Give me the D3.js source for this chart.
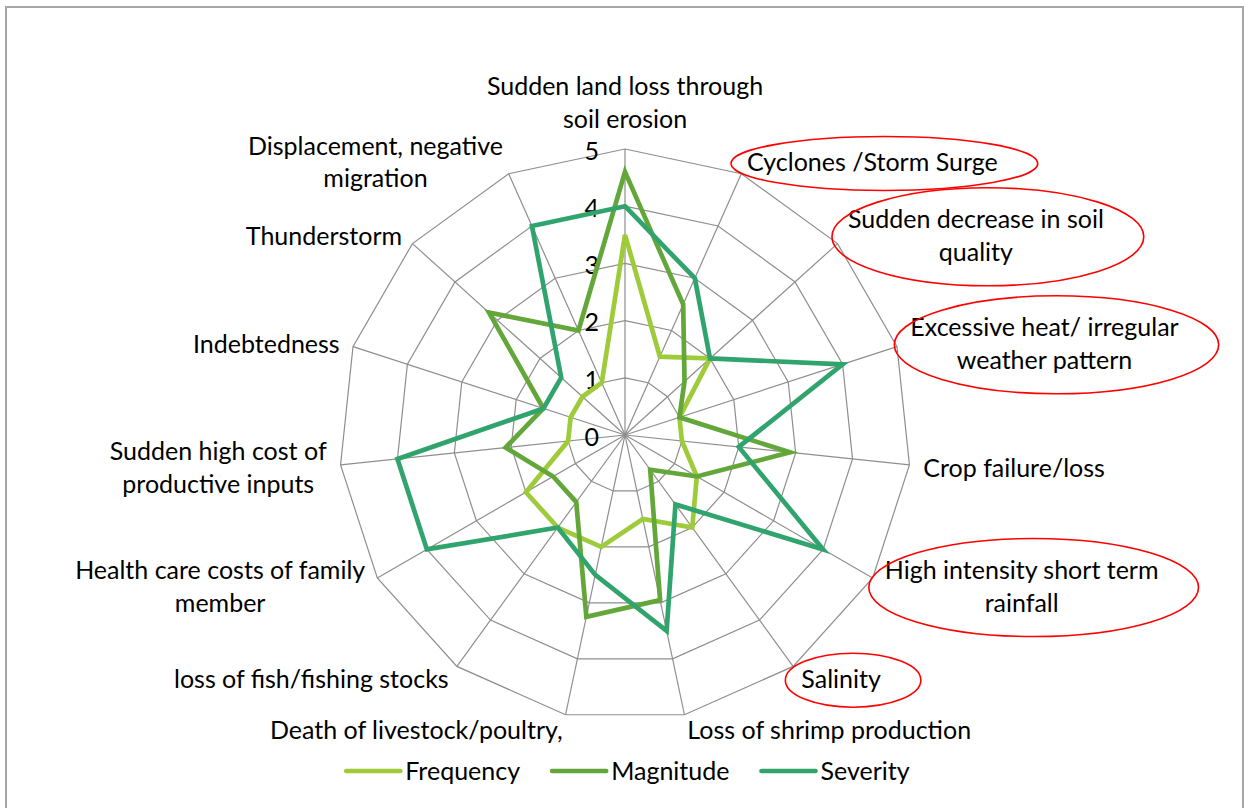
<!DOCTYPE html>
<html>
<head>
<meta charset="utf-8">
<script src="https://cdn.jsdelivr.net/npm/d3@7"></script>
<style>
  body { margin: 0; background: #fff; }
  svg text { font-family: Lato, "Open Sans", sans-serif; fill: #000; }
</style>
</head>
<body>
<div id="chart"></div>
<script>
// axis names, clockwise from the top (multi-line labels as arrays)
var categories = [
  ["Sudden land loss through", "soil erosion"],
  ["Cyclones /Storm Surge"],
  ["Sudden decrease in soil", "quality"],
  ["Excessive heat/ irregular", "weather pattern"],
  ["Crop failure/loss"],
  ["High intensity short term", "rainfall"],
  ["Salinity"],
  ["Loss of shrimp production"],
  ["Death of livestock/poultry,"],
  ["loss of fish/fishing stocks"],
  ["Health care costs of family", "member"],
  ["Sudden high cost of", "productive inputs"],
  ["Indebtedness"],
  ["Thunderstorm"],
  ["Displacement, negative", "migration"]
];
var frequency = [3.5, 1.5, 2, 1, 1, 1.45, 2, 1.5, 2, 2, 2, 1, 1, 1, 1];
var magnitude = [4.6, 2.5, 1.4, 1, 2.9, 1.45, 0.75, 2.95, 3.25, 1.45, 1.45, 2.1, 1.5, 3.2, 2];
var severity  = [4, 3, 2, 4, 2, 4, 1.5, 3.5, 2.5, 2, 4, 4, 1.5, 1.5, 4];
var seriesNames = ["Frequency", "Magnitude", "Severity"];
var ticks = [0, 1, 2, 3, 4, 5];
// labels that are circled in red on the original
var circled = [1, 2, 3, 5, 6];

var W = 1244, H = 808;
var cx = 625, cy = 435, R = 286;
var colors = ["#9dcb3a", "#63a73a", "#31a46e"];
var lineH = 32.5;
var fontSize = "25px";

var svg = d3.select("#chart").append("svg")
  .attr("width", W)
  .attr("height", H);

// outer frame of the chart area
svg.append("rect")
  .attr("x", 6).attr("y", 7)
  .attr("width", 1237).attr("height", 830)
  .attr("fill", "#fff")
  .attr("stroke", "#a6a6a6")
  .attr("stroke-width", 2);

var n = categories.length;
var r = d3.scaleLinear().domain([0, 5]).range([0, R]);
var ang = d3.scaleLinear().domain([0, n]).range([0, 2 * Math.PI]);

var plot = svg.append("g")
  .attr("transform", "translate(" + cx + "," + cy + ")");

// grid rings
var ring = d3.lineRadial()
  .angle(function(d, i) { return ang(i); })
  .radius(function(d) { return r(d); })
  .curve(d3.curveLinearClosed);

plot.selectAll(".ring")
  .data(ticks.slice(1))
  .enter().append("path")
  .attr("class", "ring")
  .attr("d", function(t) { return ring(categories.map(function() { return t; })); })
  .attr("fill", "none")
  .attr("stroke", "#8e8e8e")
  .attr("stroke-width", 1.2);

// spokes
plot.selectAll(".spoke")
  .data(categories)
  .enter().append("line")
  .attr("class", "spoke")
  .attr("x1", 0).attr("y1", 0)
  .attr("x2", function(d, i) { return r(5) * Math.sin(ang(i)); })
  .attr("y2", function(d, i) { return -r(5) * Math.cos(ang(i)); })
  .attr("stroke", "#8e8e8e")
  .attr("stroke-width", 1.2);

// tick labels along the top axis
plot.selectAll(".tick")
  .data(ticks)
  .enter().append("text")
  .attr("class", "tick")
  .attr("x", -26)
  .attr("y", function(d) { return -r(d) + 2; })
  .attr("dy", "0.35em")
  .attr("text-anchor", "end")
  .style("font-size", fontSize)
  .text(function(d) { return d; });

// the three series
var series = [frequency, magnitude, severity];
var valueline = d3.lineRadial()
  .angle(function(d, i) { return ang(i); })
  .radius(function(d) { return r(d); })
  .curve(d3.curveLinearClosed);

plot.selectAll(".series")
  .data(series)
  .enter().append("path")
  .attr("class", "series")
  .attr("d", valueline)
  .attr("fill", "none")
  .attr("stroke", function(d, i) { return colors[i]; })
  .attr("stroke-width", 4.7)
  .attr("stroke-linejoin", "miter");

// category labels, placed outside the outer ring
var labels = svg.append("g");
categories.forEach(function(lines, i) {
  var a = ang(i), s = Math.sin(a), c = Math.cos(a);
  var vx = cx + r(5) * s, vy = cy - r(5) * c;
  var g = labels.append("g");
  var txt = g.selectAll("text")
    .data(lines)
    .enter().append("text")
    .attr("text-anchor", "middle")
    .attr("y", function(d, j) { return (j - (lines.length - 1) / 2) * lineH; })
    .attr("dy", "0.35em")
    .style("font-size", fontSize)
    .text(function(d) { return d; });
  var w = d3.max(txt.nodes(), function(nd) { return nd.getComputedTextLength(); });
  var h = lines.length * lineH;
  var x, y;
  if (Math.abs(s) < 0.01) {
    x = vx;
    y = vy - 14 - h / 2;
  } else {
    x = vx + 14 * s + (s > 0 ? w / 2 : -w / 2);
    y = vy - 14 * c + 1.5;
  }
  g.attr("transform", "translate(" + x + "," + y + ")");

  // red hand-drawn style circles round some labels
  if (circled.indexOf(i) >= 0) {
    labels.append("ellipse")
      .attr("cx", x + 12)
      .attr("cy", y + 1)
      .attr("rx", w / 2 + 28)
      .attr("ry", lines.length == 1 ? 27 : 49)
      .attr("fill", "none")
      .attr("stroke", "#ff0000")
      .attr("stroke-width", 1.6);
  }
});

// legend
var legend = svg.append("g").attr("transform", "translate(0,771)");
var items = legend.selectAll("g")
  .data(seriesNames)
  .enter().append("g");
items.append("line")
  .attr("x1", 0).attr("x2", 54)
  .attr("stroke", function(d, i) { return colors[i]; })
  .attr("stroke-width", 4.7)
  .attr("stroke-linecap", "round");
items.append("text")
  .attr("x", 59)
  .attr("dy", "0.35em")
  .style("font-size", fontSize)
  .text(function(d) { return d; });
var widths = items.nodes().map(function(nd) { return nd.getBBox().width; });
var gap = 32;
var total = d3.sum(widths) + gap * (widths.length - 1);
var pos = 628 - total / 2;
items.attr("transform", function(d, i) {
  var p = pos;
  pos += widths[i] + gap;
  return "translate(" + p + ",0)";
});
</script>
</body>
</html>
